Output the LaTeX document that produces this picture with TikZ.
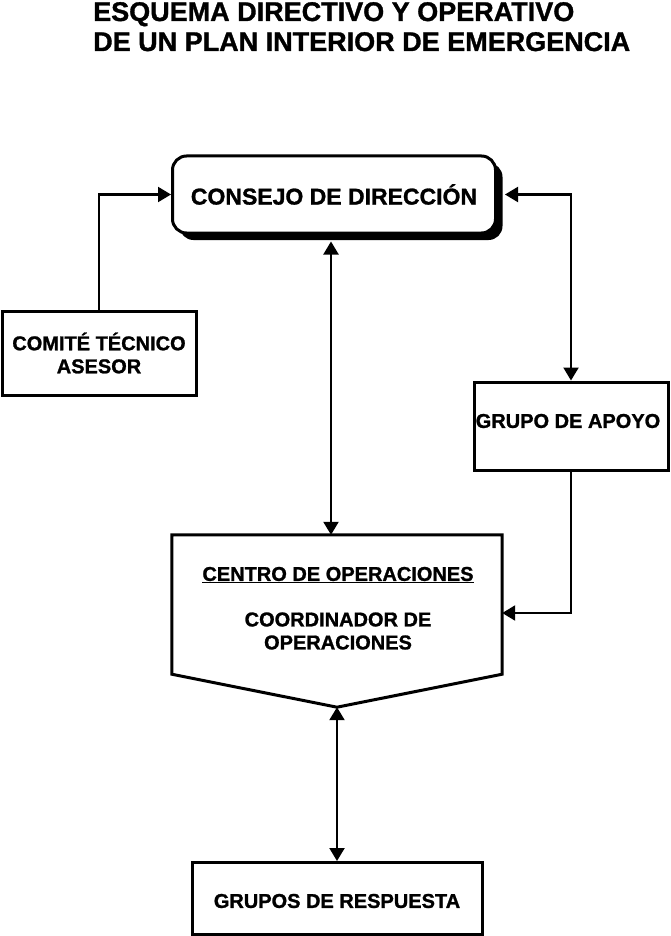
\documentclass[tikz,border=0pt]{standalone}
\usepackage{fontspec}
\setmainfont{Liberation Sans}[BoldFeatures={FakeBold=1.2}]
\usetikzlibrary{arrows.meta,shadows,calc}
\begin{document}
\begin{tikzpicture}[x=1pt,y=-1pt,
  box/.style={draw, line width=3pt, fill=white, inner sep=0pt},
  lbl/.style={font=\bfseries\fontsize{20}{23}\selectfont, align=center, inner sep=0pt},
  conn/.style={line width=2.2pt},
  tip/.style={-{Triangle[length=13pt,width=15pt]}},
  tips/.style={{Triangle[length=13pt,width=15pt]}-{Triangle[length=13pt,width=15pt]}}]
\useasboundingbox (0,0) rectangle (670,936);
% title
\node[anchor=base west, inner sep=0pt, font=\bfseries\fontsize{27}{30}\selectfont] (title1) at (93,21) {ESQUEMA DIRECTIVO Y OPERATIVO};
\node[anchor=base west, inner sep=0pt, font=\bfseries\fontsize{27}{30}\selectfont] (title2) at (93,51) {DE UN PLAN INTERIOR DE EMERGENCIA};
% consejo
\node[box, rounded corners=14pt, minimum width=323pt, minimum height=77pt,
  drop shadow={shadow xshift=7pt, shadow yshift=-7pt, fill=black, opacity=1},
  font=\bfseries\fontsize{23}{26}\selectfont] (consejo) at (334,194.5) {CONSEJO DE DIRECCIÓN};
% comite
\node[box, minimum width=194pt, minimum height=84pt, lbl] (comite) at (99,353) {COMITÉ TÉCNICO\\ASESOR};
% apoyo
\node[box, minimum width=194pt, minimum height=88pt] (apoyo) at (571,426) {};
\node[lbl] (apoyot) at (568,421) {GRUPO DE APOYO};
% centro
\node[minimum width=330pt, minimum height=172pt, inner sep=0pt] (centro) at (337,621) {};
\draw[line width=3pt, line join=miter, fill=white] (centro.north west) -- (centro.north east) -- ($(centro.south east)+(0,-33)$) -- (centro.south) -- ($(centro.south west)+(0,-33)$) -- cycle;
\node[lbl] (centrot) at (338,575) {\underline{CENTRO DE OPERACIONES}};
\node[lbl] (coord) at (338,631) {COORDINADOR DE\\OPERACIONES};
% respuesta
\node[box, minimum width=290pt, minimum height=72pt] (resp) at (337,898.5) {};
\node[lbl] (respt) at (337,901) {GRUPOS DE RESPUESTA};
% connectors
\coordinate (cjr) at ($(consejo.east)+(8,0)$);
\coordinate (cjb) at ($(consejo.south)+(-3,7)$);
\coordinate (ctt) at (cjb |- centro.north);
\coordinate (cte) at ($(centro.east)+(0,-8)$);
\draw[conn, tip] (comite.north) |- (consejo.west);
\draw[conn, tips] (cjr) -| (apoyo.north);
\draw[conn, tips] (cjb) -- (ctt);
\draw[conn, tip] (apoyo.south) |- (cte);
\draw[conn, tips] (centro.south) -- (resp.north);
\end{tikzpicture}
\end{document}
